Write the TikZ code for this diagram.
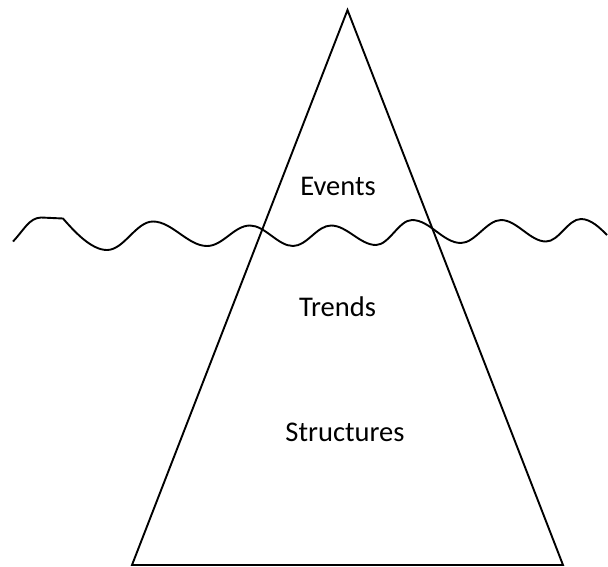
\documentclass[tikz,border=0pt]{standalone}
\usepackage{fontspec}
\setmainfont{Carlito}
\begin{document}
\begin{tikzpicture}[x=1pt,y=-1pt,
  outline/.style={line width=1.9pt,line join=miter},
  wave/.style={line width=1.9pt,line join=round},
  lbl/.style={font=\fontsize{28.5}{32}\selectfont,anchor=base,inner sep=0pt}]
\useasboundingbox (0,0) rectangle (608,566);
\coordinate (apex) at (347.5,10);
\coordinate (bl) at (132,565);
\coordinate (br) at (563,565);
\draw[outline] (apex) -- (bl) -- (br) -- cycle;
\draw[wave] (13,241.5) .. controls (24,230) and (29,218) .. (41,217.5)
  -- (63,218.5)
  .. controls (74,231) and (91,250) .. (107,250)
  .. controls (124,250) and (136,221.5) .. (153,221.5)
  .. controls (172,221.5) and (188,246) .. (207,246)
  .. controls (223,246) and (234,225.5) .. (250,225.5)
  .. controls (265,225.5) and (278,246) .. (293,246)
  .. controls (307,246) and (317,225.5) .. (331,225.5)
  .. controls (347,225.5) and (360,245) .. (376,245)
  .. controls (389,245) and (399,220) .. (412,220)
  .. controls (430,220) and (443,243) .. (461,243)
  .. controls (475,243) and (487,220) .. (501,220)
  .. controls (517,220) and (530,241.5) .. (546,241.5)
  .. controls (559,241.5) and (568,219) .. (581,219)
  .. controls (591,219) and (600,228) .. (607,235);
\node[lbl] (events) at (338,195) {Events};
\node[lbl] (trends) at (337.5,316.5) {Trends};
\node[lbl] (structures) at (345,441) {Structures};
\end{tikzpicture}
\end{document}
